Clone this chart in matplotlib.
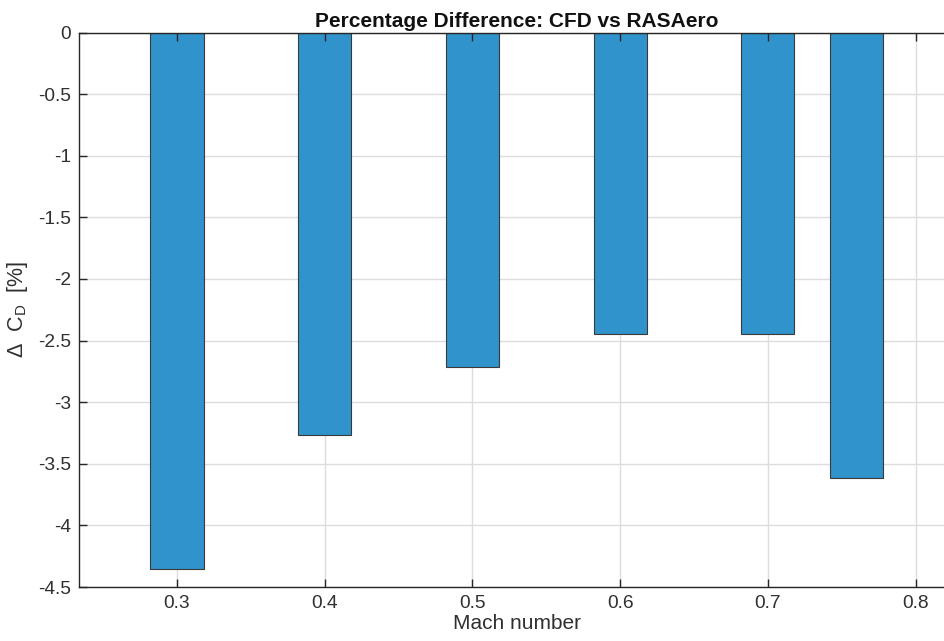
import matplotlib
matplotlib.use("Agg")
import matplotlib.pyplot as plt

mach = [0.3, 0.4, 0.5, 0.6, 0.7, 0.76]
delta_cd = [-4.354, -3.267, -2.712, -2.446, -2.444, -3.618]
yticks = [0, -0.5, -1, -1.5, -2, -2.5, -3, -3.5, -4, -4.5]
xticks = [0.3, 0.4, 0.5, 0.6, 0.7, 0.8]

plt.rcParams['font.family'] = ['Liberation Sans', 'DejaVu Sans']
plt.rcParams['mathtext.fontset'] = 'custom'
plt.rcParams['mathtext.rm'] = 'Liberation Sans'

W, H = 944, 641
fig = plt.figure(figsize=(W/100, H/100), dpi=100)
l, r, t, b = 79.3, 954, 32.5, 587
ax = fig.add_axes([l/W, 1-b/H, (r-l)/W, (b-t)/H])

# grid drawn behind bars, ticks/spines on top
for yv in yticks:
    ax.axhline(yv, color='#dcdcdc', linewidth=1.0, zorder=0)
for xv in xticks:
    ax.axvline(xv, color='#dcdcdc', linewidth=1.0, zorder=0)

ax.bar(mach, delta_cd, width=0.036, color='#3193CB', edgecolor='#3a3a3a',
       linewidth=0.8, zorder=2)
ax.set_xlim(0.2339, 0.826)
ax.set_ylim(-4.5, 0)
ax.set_xticks(xticks)
ax.set_xticklabels([f"{v:g}" for v in xticks])
ax.set_yticks(yticks)
ax.set_yticklabels([f"{v:g}" for v in yticks])
ax.set_axisbelow(False)
ax.tick_params(direction='in', length=6, width=1.0, color='#262626',
               labelcolor='#303030', labelsize=13.8, top=True, right=True, pad=6)
for s in ax.spines.values():
    s.set_color('#262626')
    s.set_linewidth(1.0)
    s.set_zorder(5)
ax.set_title('Percentage Difference: CFD vs RASAero', fontsize=15,
             fontweight='bold', color='#111111', pad=4)
ax.set_xlabel('Mach number', fontsize=15, color='#303030', labelpad=1)
ax.set_ylabel(r'Δ  C$_\mathregular{D}$  [%]', fontsize=15.5, color='#303030', labelpad=6)

fig.savefig('out.png', dpi=100)
